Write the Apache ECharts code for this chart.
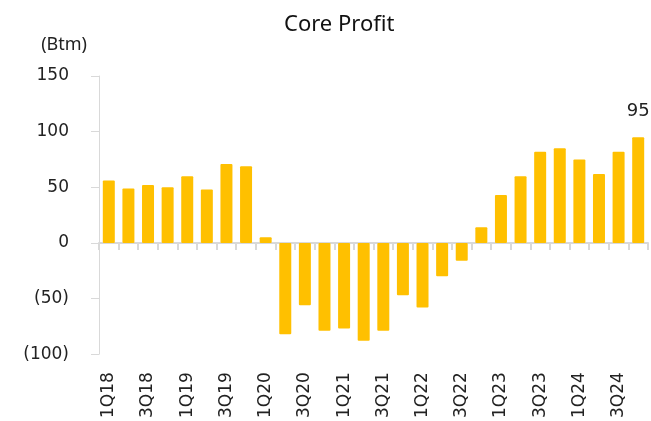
<!DOCTYPE html>
<html lang="en">
<head>
    <meta charset="UTF-8">
    <title>Core Profit</title>
    <script src="https://cdn.jsdelivr.net/npm/echarts@6/dist/echarts.min.js"></script>
    <style>
        html,body{margin:0;padding:0;background:#fff;}
        #main{width:651px;height:421px;}
    </style>
</head>
<body>
<div id="main"></div>
<script>
    // quarters
    var quarters = ['1Q18','2Q18','3Q18','4Q18','1Q19','2Q19','3Q19','4Q19',
        '1Q20','2Q20','3Q20','4Q20','1Q21','2Q21','3Q21','4Q21',
        '1Q22','2Q22','3Q22','4Q22','1Q23','2Q23','3Q23','4Q23',
        '1Q24','2Q24','3Q24','4Q24'];
    // core profit, Btm
    var coreProfit = [56, 49, 52, 50, 60, 48, 71, 69,
        5, -82, -56, -79, -77, -88, -79, -47,
        -58, -30, -16, 14, 43, 60, 82, 85,
        75, 62, 82, 95];
    var yTicks = {min: -100, max: 150, step: 50};

    var gold = '#FFC000';
    var axisGrey = '#d9d9d9';
    var tickFont = 'DejaVu Sans';

    var barData = coreProfit.map(function (v, i) {
        if (i === coreProfit.length - 1) {
            return {value: v, label: {show: true, position: 'top', distance: 17,
                fontFamily: tickFont, fontSize: 18, color: '#222'}};
        }
        return v;
    });

    var myChart = echarts.init(document.getElementById('main'));
    var option = {
        animation: false,
        title: {
            text: 'Core Profit',
            left: 279,
            top: 9,
            textStyle: {fontFamily: 'Noto Sans', fontWeight: 'normal', fontSize: 22, color: '#111'}
        },
        grid: {left: 99, right: 3, top: 76, bottom: 64},
        xAxis: [{
            type: 'category',
            data: quarters,
            position: 'bottom',
            axisLine: {onZero: true, lineStyle: {color: axisGrey, width: 2}},
            axisTick: {show: true, interval: 0, length: 7, lineStyle: {color: axisGrey, width: 2}},
            axisLabel: {show: false}
        }, {
            type: 'category',
            data: quarters,
            position: 'bottom',
            axisLine: {show: false, onZero: false},
            axisTick: {show: false},
            axisLabel: {
                interval: 1, rotate: 90, margin: 18,
                fontFamily: tickFont, fontSize: 17, color: '#222'
            }
        }],
        yAxis: {
            type: 'value',
            min: yTicks.min,
            max: yTicks.max,
            interval: yTicks.step,
            name: '(Btm)',
            nameLocation: 'end',
            nameGap: 22,
            nameTextStyle: {fontFamily: 'Noto Sans', fontSize: 18, color: '#222', align: 'right', padding: [0, 12, 0, 0]},
            axisLine: {show: true, lineStyle: {color: axisGrey, width: 1}},
            axisTick: {show: true, length: 8, lineStyle: {color: axisGrey}},
            splitLine: {show: false},
            axisLabel: {
                margin: 30,
                fontFamily: tickFont, fontSize: 17, color: '#222',
                formatter: function (v) { return v < 0 ? '(' + Math.abs(v) + ')' : String(v); }
            }
        },
        series: [{
            name: 'Core Profit',
            type: 'bar',
            xAxisIndex: 0,
            data: barData,
            barWidth: 12,
            itemStyle: {color: gold, borderRadius: 1}
        }]
    };
    myChart.setOption(option);
</script>
</body>
</html>
